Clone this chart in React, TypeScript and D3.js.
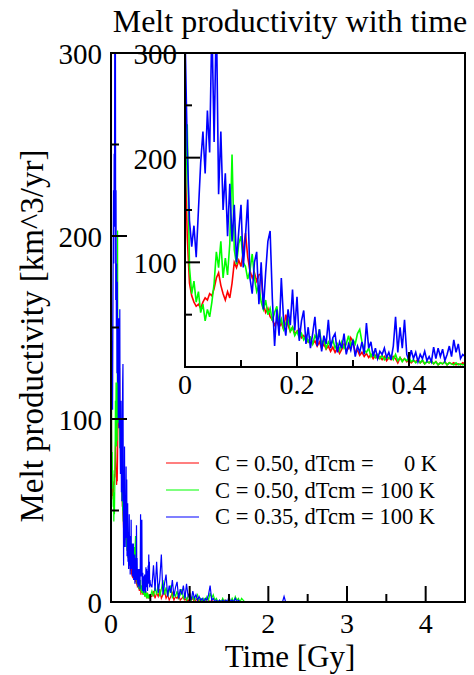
import React from "react";
import * as d3 from "d3";

// sample times (Gy): fine sampling for the first 0.5 Gy, coarse after that
const tEarly = d3.range(126).map((i) => i * 0.004);
const tLate = d3.range(90).map((i) => 0.52 + i * 0.02);

// melt productivity [km^3/yr] (0 - 0.5 Gy)
const redEarly = [
  210, 125, 80, 68, 62, 58, 60, 56, 62, 66, 64, 70, 68, 75, 85, 90, 78, 70, 64, 72,
  66, 80, 100, 95, 102, 96, 110, 128, 105, 92, 85, 90, 82, 88, 89, 60, 52, 56, 48, 45,
  40, 44, 38, 42, 36, 50, 40, 34, 38, 32, 34, 36, 28, 30, 26, 24, 28, 22, 25, 20,
  24, 18, 22, 17, 20, 15, 19, 14, 18, 13, 17, 22, 15, 18, 28, 24, 14, 16, 11, 14,
  10, 13, 9, 12, 8, 11, 8, 10, 7, 10, 6, 9, 7, 10, 8, 4, 9, 6, 8, 5,
  7, 4, 6, 5, 7, 4, 6, 3, 5, 4, 6, 3, 5, 2, 4, 3, 5, 2, 4, 3,
  4, 2, 3, 2, 4, 3,
];
const greenEarly = [
  150, 232, 95, 70, 82, 62, 72, 52, 60, 44, 55, 48, 62, 80, 110, 95, 120, 85, 104, 88,
  118, 203, 112, 98, 118, 125, 100, 96, 84, 92, 108, 85, 72, 78, 62, 55, 64, 50, 56, 44,
  52, 58, 40, 46, 36, 42, 46, 34, 38, 30, 34, 28, 32, 26, 30, 24, 28, 22, 30, 26,
  36, 22, 26, 18, 24, 20, 26, 18, 22, 16, 24, 18, 22, 30, 20, 26, 22, 32, 36, 24,
  16, 14, 18, 10, 14, 9, 12, 8, 11, 7, 10, 8, 11, 7, 12, 6, 9, 5, 8, 6,
  9, 5, 7, 4, 6, 4, 7, 3, 5, 4, 6, 3, 5, 2, 4, 3, 5, 2, 4, 3,
  2, 4, 2, 3, 2, 3,
];
const blueEarly = [
  320, 210, 140, 115, 135, 105, 150, 195, 225, 185, 245, 205, 330, 215, 340, 165, 225, 150, 185, 125,
  175, 120, 155, 100, 130, 155, 95, 125, 160, 85, 70, 100, 110, 60, 100, 55, 90, 120, 130, 65,
  20, 55, 30, 85, 45, 30, 55, 40, 74, 35, 67, 25, 44, 54, 22, 38, 18, 32, 48, 20,
  36, 15, 30, 22, 45, 18, 28, 32, 14, 24, 18, 32, 12, 22, 16, 26, 10, 20, 14, 24,
  12, 42, 18, 24, 10, 18, 8, 15, 12, 18, 9, 14, 7, 20, 48, 14, 38, 18, 45, 12,
  6, 16, 8, 14, 5, 12, 8, 15, 6, 10, 5, 19, 8, 18, 10, 17, 6, 12, 20, 10,
  26, 14, 22, 8, 12, 10,
];

// tails 0.52 - 2.30 Gy
const redLate = [
  3, 6, 2, 5, 3, 7, 2, 4, 6, 2, 4, 1, 3, 5, 1, 3, 2, 4, 1, 2,
  3, 1, 2, 0, 2, 1, 2, 0, 1, 2, 0, 1, 0, 1, 0, 2, 1, 0, 1, 0,
  0, 0, 0, 0, 0, 0, 1, 0, 0, 0, 0, 0, 0, 0, 0, 0, 0, 0, 0, 0,
  0, 0, 0, 0, 0, 0, 0, 0, 0, 0, 0, 0, 0, 0, 0, 0, 0, 0, 0, 0,
  0, 0, 0, 0, 0, 0, 0, 0, 0, 0,
];
const greenLate = [
  6, 3, 8, 4, 10, 3, 7, 12, 4, 8, 3, 6, 9, 2, 5, 3, 6, 2, 4, 7,
  2, 4, 1, 3, 5, 1, 3, 1, 2, 4, 1, 2, 0, 2, 1, 3, 1, 5, 2, 4,
  1, 2, 0, 1, 0, 2, 0, 1, 0, 1, 0, 2, 0, 3, 1, 2, 0, 2, 1, 0,
  0, 0, 0, 0, 0, 0, 0, 0, 0, 0, 0, 0, 0, 0, 0, 0, 0, 0, 0, 0,
  0, 0, 0, 0, 0, 0, 0, 0, 0, 0,
];
const blueLate = [
  8, 20, 6, 22, 5, 12, 26, 4, 10, 15, 3, 9, 5, 12, 3, 8, 11, 2, 7, 4,
  9, 2, 10, 3, 5, 1, 6, 2, 4, 1, 3, 1, 2, 0, 2, 1, 4, 9, 1, 2,
  0, 1, 0, 1, 0, 1, 0, 1, 0, 3, 0, 1, 0, 2, 0, 1, 0, 0, 0, 0,
  0, 0, 0, 0, 0, 0, 0, 0, 0, 0, 0, 0, 0, 0, 0, 0, 0, 0, 0, 0,
  0, 0, 0, 0, 3, 0, 0, 0, 0, 0,
];

const seriesNames = ["C = 0.50, dTcm =", "C = 0.50, dTcm =", "C = 0.35, dTcm ="];
const seriesDT = ["0 K", "100 K", "100 K"];
const seriesColors = ["#ff0000", "#00ff00", "#0000ff"];

const mainXMajor = [0, 1, 2, 3, 4];
const mainXMinor = [0.5, 1.5, 2.5, 3.5];
const mainYMajor = [0, 100, 200, 300];
const mainYMinor = [50, 150, 250];
const insetXMajor = [0.2, 0.4];
const insetXMinor = [0.1, 0.3];
const insetXLabels = [0, 0.2, 0.4];
const insetYMajor = [100, 200, 300];
const insetYMinor = [50, 150, 250];

const FONT = "'Liberation Serif', 'Times New Roman', serif";

export default function App() {
  const times = tEarly.concat(tLate);
  const series = [
    redEarly.concat(redLate),
    greenEarly.concat(greenLate),
    blueEarly.concat(blueLate),
  ].map((vals) => vals.map((v, i) => [times[i], v] as [number, number]));

  const x = d3.scaleLinear().domain([0, 4.5]).range([111, 465]);
  const y = d3.scaleLinear().domain([0, 300]).range([602, 53]);
  const xi = d3.scaleLinear().domain([0, 0.5]).range([185, 465]);
  const yi = d3.scaleLinear().domain([0, 300]).range([367, 53]);

  const lineMain = d3.line<[number, number]>().x((d) => x(d[0])).y((d) => y(d[1]));
  const lineInset = d3.line<[number, number]>().x((d) => xi(d[0])).y((d) => yi(d[1]));

  const ax = { stroke: "#000", strokeWidth: 2 };

  return (
    <svg width={474} height={675} style={{ position: "absolute", left: 0, top: 0, background: "#fff" }}
      fontFamily={FONT}>
      <defs>
        <clipPath id="clipMain"><rect x={111} y={53} width={354} height={549} /></clipPath>
        <clipPath id="clipInset"><rect x={185} y={53} width={280} height={314} /></clipPath>
      </defs>

      <text x={290} y={32} fontSize={32} textAnchor="middle">Melt productivity with time</text>

      {/* main panel */}
      <g clipPath="url(#clipMain)">
        {series.map((s, i) => (
          <path key={i} d={lineMain(s) ?? ""} fill="none" stroke={seriesColors[i]} strokeWidth={1.2} />
        ))}
      </g>
      {mainXMajor.map((t) => <line key={"mx" + t} x1={x(t)} x2={x(t)} y1={y(0)} y2={y(0) - 16} {...ax} />)}
      {mainXMinor.map((t) => <line key={"mxm" + t} x1={x(t)} x2={x(t)} y1={y(0)} y2={y(0) - 8} {...ax} />)}
      {mainYMajor.map((v) => <line key={"my" + v} x1={x(0)} x2={x(0) + 16} y1={y(v)} y2={y(v)} {...ax} />)}
      {mainYMinor.map((v) => <line key={"mym" + v} x1={x(0)} x2={x(0) + 8} y1={y(v)} y2={y(v)} {...ax} />)}
      <rect x={111} y={53} width={354} height={549} fill="none" {...ax} />
      {mainXMajor.map((t) => (
        <text key={"mxl" + t} x={x(t)} y={633} fontSize={28} textAnchor="middle">{t}</text>
      ))}
      {mainYMajor.map((v) => (
        <text key={"myl" + v} x={102} y={y(v) + 11} fontSize={29} textAnchor="end">{v}</text>
      ))}
      <text x={290} y={667} fontSize={31} textAnchor="middle">Time [Gy]</text>
      <text transform="translate(43,336) rotate(-90)" fontSize={33} textAnchor="middle">
        Melt productivity [km^3/yr]
      </text>

      {/* legend */}
      {seriesNames.map((n, i) => (
        <g key={"lg" + i}>
          <line x1={166} x2={199} y1={463 + i * 27} y2={463 + i * 27} stroke={seriesColors[i]} strokeWidth={1.2} />
          {i === 0 ? (
            <>
              <text x={215} y={471} fontSize={22.5}>{n}</text>
              <text x={437} y={471} fontSize={22.5} textAnchor="end">{seriesDT[i]}</text>
            </>
          ) : (
            <text x={215} y={471 + i * 26.5} fontSize={22.5}>{n + " " + seriesDT[i]}</text>
          )}
        </g>
      ))}

      {/* inset */}
      <rect x={185} y={53} width={280} height={314} fill="#fff" />
      <g clipPath="url(#clipInset)">
        {series.map((s, i) => (
          <path key={i} d={lineInset(s) ?? ""} fill="none" stroke={seriesColors[i]} strokeWidth={1.6} />
        ))}
      </g>
      {insetXMajor.map((t) => <line key={"ix" + t} x1={xi(t)} x2={xi(t)} y1={yi(0)} y2={yi(0) - 15} {...ax} />)}
      {insetXMinor.map((t) => <line key={"ixm" + t} x1={xi(t)} x2={xi(t)} y1={yi(0)} y2={yi(0) - 7} {...ax} />)}
      {insetYMajor.map((v) => <line key={"iy" + v} x1={xi(0)} x2={xi(0) + 15} y1={yi(v)} y2={yi(v)} {...ax} />)}
      {insetYMinor.map((v) => <line key={"iym" + v} x1={xi(0)} x2={xi(0) + 7} y1={yi(v)} y2={yi(v)} {...ax} />)}
      <rect x={185} y={53} width={280} height={314} fill="none" {...ax} />
      {insetXLabels.map((t) => (
        <text key={"ixl" + t} x={xi(t)} y={394} fontSize={28} textAnchor="middle">{t}</text>
      ))}
      {insetYMajor.map((v) => (
        <text key={"iyl" + v} x={177} y={yi(v) + 11} fontSize={29} textAnchor="end">{v}</text>
      ))}
    </svg>
  );
}
